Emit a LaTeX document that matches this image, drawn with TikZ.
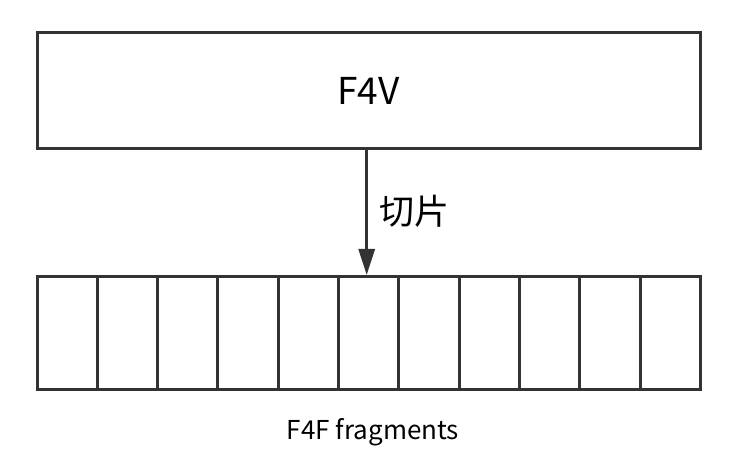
\documentclass[tikz,border=0pt]{standalone}
\usepackage{fontspec}
\setmainfont{Noto Sans CJK SC}
\usetikzlibrary{positioning,arrows.meta}
\definecolor{linegray}{HTML}{333333}

\begin{document}
\begin{tikzpicture}[x=1pt, y=-1pt,
    wholebox/.style={rectangle, draw=linegray, line width=3pt, minimum width=663pt,
        minimum height=116pt, anchor=north west, inner sep=0pt, font=\fontsize{37}{40}\selectfont},
    fragbox/.style={rectangle, draw=linegray, line width=3pt, minimum width=60.3pt,
        minimum height=113.5pt, anchor=north west, inner sep=0pt},
    cut/.style={draw=linegray, line width=3pt, -{Triangle[length=26pt, width=16pt]}}
]
\useasboundingbox (0,0) rectangle (748,470);
\node (F4V) [wholebox] at (35.5,31.5) {F4V};
% the fragment cells
\foreach \i in {0,...,10}{
    \node (frag\i) [fragbox] at (35.5+60.3*\i,275) {};
}
\coordinate (cutEnd) at (366.7,275);
\draw[cut] (F4V.south -| cutEnd) -- (cutEnd);
\node (cutLabel) at (414,211) {\fontsize{35}{38}\selectfont 切片};
\node (fragLabel) at (373,432) {\fontsize{26}{28}\selectfont F4F fragments};
\end{tikzpicture}
\end{document}
